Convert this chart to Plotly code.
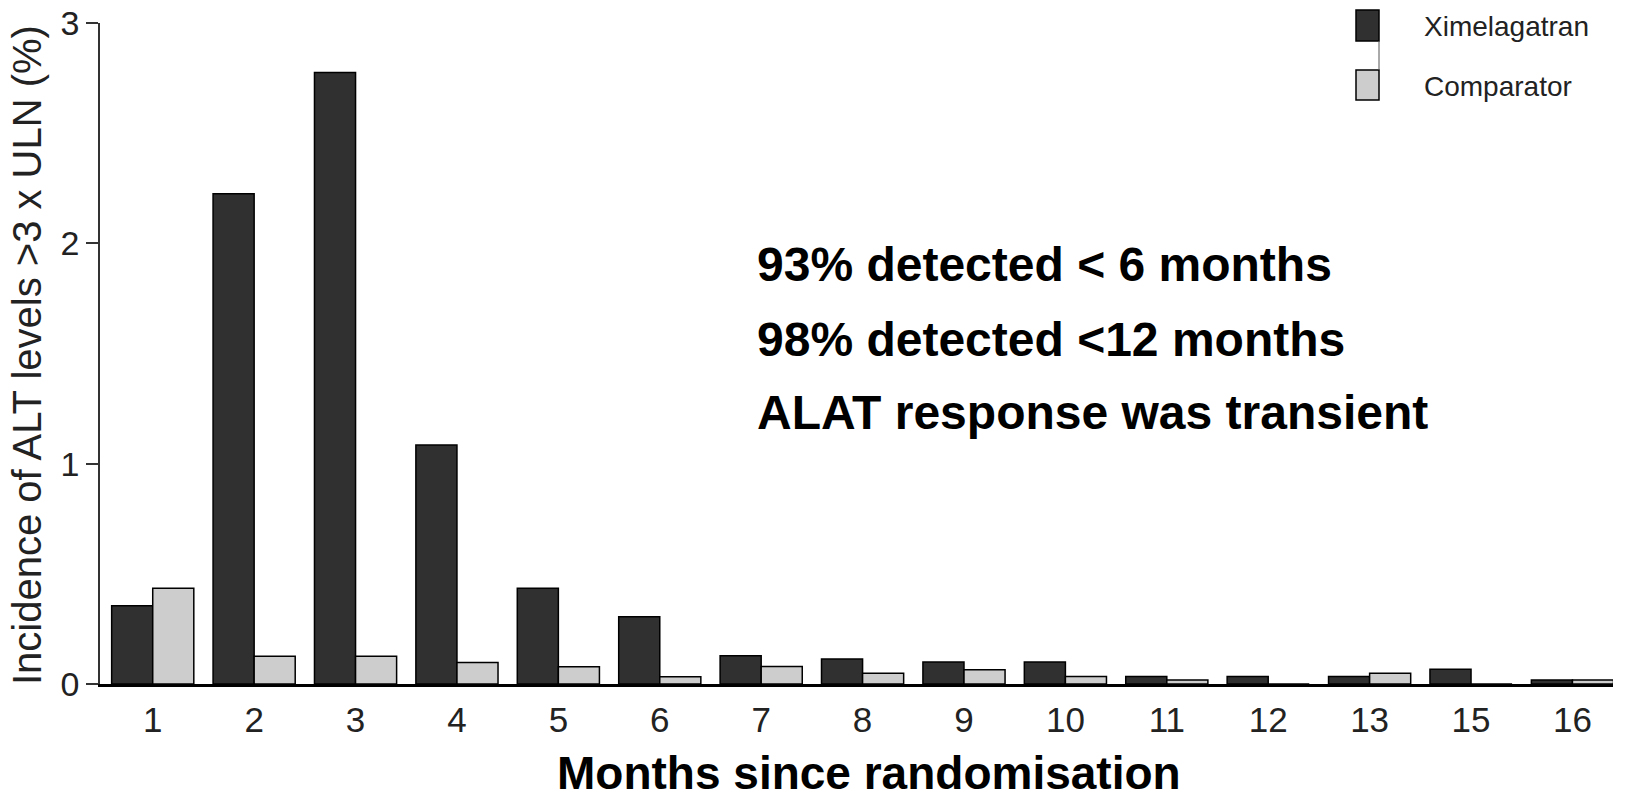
import plotly.graph_objects as go

# ---- data ----
months = ["1", "2", "3", "4", "5", "6", "7", "8", "9", "10", "11", "12", "13", "15", "16"]
ximelagatran = [0.355, 2.225, 2.775, 1.085, 0.435, 0.305, 0.128, 0.113, 0.100, 0.100, 0.034, 0.034, 0.034, 0.067, 0.018]
comparator = [0.435, 0.126, 0.126, 0.098, 0.078, 0.033, 0.079, 0.049, 0.065, 0.034, 0.018, 0.0, 0.049, 0.0, 0.018]
y_ticks = [0, 1, 2, 3]
notes = ["93% detected < 6 months", "98% detected <12 months", "ALAT response was transient"]

W, H = 1626, 801
L, R, T, B = 100, 13, 23, 117
PW, PH = W - L - R, H - T - B

def px(x):
    return (x - L) / PW

def py(y):
    return (H - B - y) / PH

FONT = "Liberation Sans, Arial, Helvetica, sans-serif"
XIM_COL = "#303030"
COMP_COL = "#cdcdcd"

fig = go.Figure()
fig.add_trace(go.Bar(x=months, y=ximelagatran, name="Ximelagatran",
                     marker=dict(color=XIM_COL, line=dict(color="black", width=1.5))))
fig.add_trace(go.Bar(x=months, y=comparator, name="Comparator",
                     marker=dict(color=COMP_COL, line=dict(color="black", width=1.5))))

# legend drawn manually to mimic the tall swatches
shapes = [
    dict(type="rect", xref="paper", yref="paper", x0=px(1356), x1=px(1379), y0=py(41), y1=py(10),
         fillcolor=XIM_COL, line=dict(color="black", width=1.5)),
    dict(type="rect", xref="paper", yref="paper", x0=px(1356), x1=px(1379), y0=py(100), y1=py(70),
         fillcolor=COMP_COL, line=dict(color="black", width=1.5)),
    dict(type="line", xref="paper", yref="paper", x0=px(1379), x1=px(1379), y0=py(70), y1=py(41),
         line=dict(color="#555", width=1)),
]

annotations = [
    dict(text="Ximelagatran", xref="paper", yref="paper", x=px(1422), y=py(27), xanchor="left",
         yanchor="middle", showarrow=False, font=dict(family=FONT, size=28, color="#222")),
    dict(text="Comparator", xref="paper", yref="paper", x=px(1422), y=py(86), xanchor="left",
         yanchor="middle", showarrow=False, font=dict(family=FONT, size=28, color="#222")),
]
for t, yy in zip(notes, [264, 339, 412]):
    annotations.append(dict(text=f"<b>{t}</b>", xref="paper", yref="paper", x=px(755), y=py(yy),
                            xanchor="left", yanchor="middle", showarrow=False,
                            font=dict(family=FONT, size=48, color="black")))
annotations.append(dict(text="<b>Months since randomisation</b>", xref="paper", yref="paper",
                        x=px(869), y=py(773), xanchor="center", yanchor="middle", showarrow=False,
                        font=dict(family=FONT, size=46, color="black")))
annotations.append(dict(text="Incidence of ALT levels >3 x ULN (%)", xref="paper", yref="paper",
                        x=px(27), y=py(355), xanchor="center", yanchor="middle", showarrow=False,
                        textangle=-90, font=dict(family=FONT, size=40, color="#222")))

fig.update_layout(
    width=W, height=H,
    margin=dict(l=L, r=R, t=T, b=B, autoexpand=False),
    paper_bgcolor="white", plot_bgcolor="white",
    barmode="group", bargap=0.19, bargroupgap=0,
    showlegend=False,
    shapes=shapes, annotations=annotations,
    font=dict(family=FONT, color="#222"),
)
fig.update_xaxes(
    type="category", range=[-0.52, 14.4],
    showline=True, linecolor="black", linewidth=3,
    ticks="outside", ticklen=3, tickcolor="rgba(0,0,0,0)",
    tickfont=dict(family=FONT, size=35, color="#222"),
    showgrid=False, zeroline=False, automargin=False,
)
fig.update_yaxes(
    range=[0, 3], tickvals=y_ticks,
    showline=True, linecolor="#333", linewidth=1.5,
    ticks="outside", ticklen=12, tickwidth=1.5, tickcolor="#333",
    tickfont=dict(family=FONT, size=34, color="#222"),
    showgrid=False, zeroline=False, automargin=False,
)

fig.write_html("out.html")
